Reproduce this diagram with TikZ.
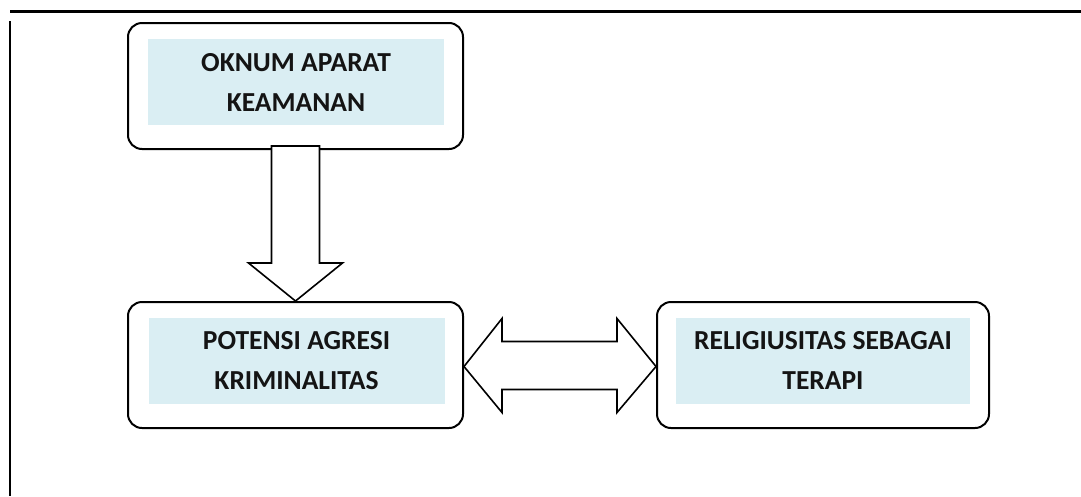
\documentclass[tikz,border=0pt]{standalone}
\usepackage{fontspec}
\setmainfont{Carlito}
\usetikzlibrary{calc}
\definecolor{fillblue}{HTML}{DAEEF3}
\definecolor{txt}{HTML}{141414}
\begin{document}
\begin{tikzpicture}[x=1pt,y=-1pt,
  outerbox/.style={draw=black, line width=2pt, rounded corners=14pt, minimum width=335pt, minimum height=126pt, inner sep=0pt},
  innerbox/.style={fill=fillblue, minimum width=296pt, minimum height=86pt, inner sep=0pt, align=center, text=txt,
    font=\fontsize{27.5}{40}\selectfont\bfseries},
  arrowshape/.style={draw=black, line width=1.6pt, fill=white, line join=miter}
]
\useasboundingbox (0,0) rectangle (1081,496);
% outer frame lines
\coordinate (fTL) at (10,11);
\coordinate (fTR) at (1081,11);
\coordinate (fL1) at (10,21);
\coordinate (fL2) at (10,496);
\draw[line width=3pt] (fTL) -- (fTR);
\draw[line width=2pt] (fL1) -- (fL2);

% boxes
\node[outerbox] (b1) at (295.5,86) {};
\node[innerbox] (t1) at (296,82) {OKNUM APARAT\\KEAMANAN};
\node[outerbox] (b2) at (295.5,365) {};
\node[innerbox] (t2) at (296.5,360.5) {POTENSI AGRESI\\KRIMINALITAS};
\node[outerbox, minimum width=332pt] (b3) at (823,365) {};
\node[innerbox, minimum width=294pt] (t3) at (823,360.5) {RELIGIUSITAS SEBAGAI\\TERAPI};

% down arrow from b1 to b2
\draw[arrowshape]
  ($(b1.south)+(-24,-4)$) -- ($(b1.south)+(24,-4)$) -- ($(b1.south)+(24,113)$)
  -- ($(b1.south)+(47,113)$) -- (b2.north) -- ($(b1.south)+(-47,113)$)
  -- ($(b1.south)+(-24,113)$) -- cycle;

% double arrow between b2 and b3
\coordinate (dl) at ($(b2.east)+(0,1.5)$);
\coordinate (dr) at ($(b3.west)+(0,1.5)$);
\draw[arrowshape]
  (dl) -- ($(dl)+(38,-48)$) -- ($(dl)+(38,-25)$) -- ($(dr)+(-39,-25)$)
  -- ($(dr)+(-39,-48)$) -- (dr) -- ($(dr)+(-39,46)$) -- ($(dr)+(-39,23)$)
  -- ($(dl)+(38,23)$) -- ($(dl)+(38,46)$) -- cycle;
\end{tikzpicture}
\end{document}
